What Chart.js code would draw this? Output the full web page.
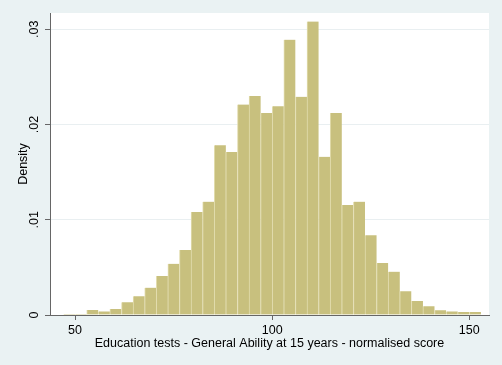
<!DOCTYPE html>
<html>
<head>
<meta charset="utf-8">
<script src="https://cdn.jsdelivr.net/npm/chart.js@4/dist/chart.umd.min.js"></script>
<style>
  html, body { margin: 0; padding: 0; background: #eaf2f3; }
  canvas { display: block; }
</style>
</head>
<body>
<canvas id="c" width="502" height="365"></canvas>
<script>
// Bin centres (normalised score)
const binCenters = [48.55, 51.49, 54.43, 57.37, 60.31, 63.26, 66.20, 69.14, 72.08, 75.02,
  77.96, 80.90, 83.84, 86.78, 89.72, 92.67, 95.61, 98.55, 101.49, 104.43,
  107.37, 110.31, 113.25, 116.19, 119.13, 122.08, 125.02, 127.96, 130.90, 133.84,
  136.78, 139.72, 142.66, 145.60, 148.54, 151.49];
// Density per bin
const densities = [0.0001, 0.0001, 0.00052, 0.00038, 0.00063, 0.00133, 0.00196, 0.00287, 0.00409, 0.00538,
  0.00682, 0.0108, 0.0119, 0.01783, 0.0171, 0.0221, 0.0230, 0.0212, 0.0219, 0.0289,
  0.0229, 0.0308, 0.0166, 0.0212, 0.01154, 0.0119, 0.00836, 0.00545, 0.00455, 0.00248,
  0.00147, 0.00091, 0.00049, 0.00038, 0.00031, 0.00031];
const xTicks = [50, 100, 150];
const yTicks = [0, 0.01, 0.02, 0.03];
const xTitle = 'Education tests - General Ability at 15 years - normalised score';
const yTitle = 'Density';

const FONT = 'Liberation Sans, Arial, sans-serif';

const plotBg = {
  id: 'plotBg',
  beforeDraw(chart) {
    const {ctx, chartArea: a} = chart;
    ctx.save();
    ctx.fillStyle = '#eaf2f3';
    ctx.fillRect(0, 0, chart.width, chart.height);
    ctx.fillStyle = '#ffffff';
    ctx.fillRect(a.left, a.top, a.right - a.left, a.bottom - a.top);
    ctx.restore();
  }
};

new Chart(document.getElementById('c'), {
  type: 'bar',
  data: {
    datasets: [{
      data: binCenters.map((x, i) => ({x: x, y: densities[i]})),
      backgroundColor: '#c8c07e',
      borderColor: '#e3ddb0',
      borderWidth: {left: 1, right: 0, top: 0, bottom: 0},
      borderSkipped: false,
      barPercentage: 1,
      categoryPercentage: 1
    }]
  },
  options: {
    responsive: false,
    devicePixelRatio: 1,
    animation: false,
    layout: { padding: { top: 13, right: 13, left: 0, bottom: 0 } },
    plugins: { legend: { display: false }, tooltip: { enabled: false } },
    scales: {
      x: {
        type: 'linear',
        min: 43.65,
        max: 155.0,
        offset: false,
        z: 1,
        afterBuildTicks: s => { s.ticks = xTicks.map(v => ({value: v})); },
        afterFit: s => { s.height = 50; },
        grid: { offset: false, drawOnChartArea: false, drawTicks: true, tickLength: 5, tickColor: '#666', tickWidth: 1 },
        border: { display: true, color: '#666', width: 1 },
        ticks: { color: '#000', font: { family: FONT, size: 12.5 }, padding: 3, maxRotation: 0, autoSkip: false },
        title: { display: true, text: xTitle, color: '#000', font: { family: FONT, size: 12.5 }, padding: { top: 0, bottom: 14 } }
      },
      y: {
        type: 'linear',
        min: 0,
        max: 0.0317,
        afterBuildTicks: s => { s.ticks = yTicks.map(v => ({value: v})); },
        afterFit: s => { s.width = 50; },
        grid: { color: '#e9eff1', lineWidth: 1, drawTicks: true, tickLength: 5, tickColor: '#666', tickWidth: 1 },
        border: { display: true, color: '#666', width: 1 },
        ticks: {
          color: '#000', font: { family: FONT, size: 12.5 }, padding: 2,
          minRotation: 90, maxRotation: 90, crossAlign: 'center', autoSkip: false,
          callback: v => v === 0 ? '0' : v.toFixed(2).replace(/^0/, '')
        },
        title: { display: true, text: yTitle, color: '#000', font: { family: FONT, size: 12.5 }, padding: { top: 16, bottom: 0 } }
      }
    }
  },
  plugins: [plotBg]
});
</script>
</body>
</html>
